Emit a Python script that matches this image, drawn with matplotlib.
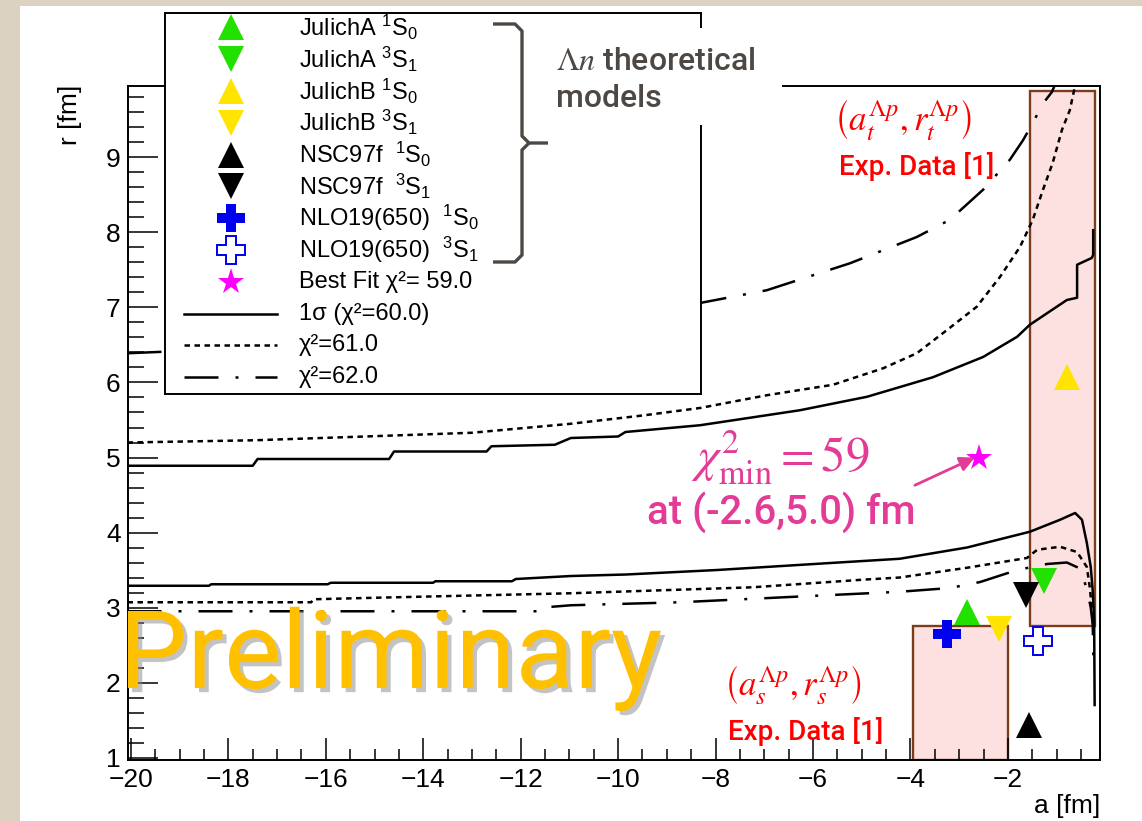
import matplotlib
matplotlib.use("Agg")
import matplotlib.pyplot as plt
import matplotlib.patheffects as pe
from matplotlib.patches import Rectangle
from matplotlib.ticker import MultipleLocator

plt.rcParams.update({
    "font.family": ["Liberation Sans", "DejaVu Sans"],
    "mathtext.fontset": "custom",
    "mathtext.rm": "Liberation Sans",
    "mathtext.it": "Liberation Sans:italic",
    "mathtext.bf": "Liberation Sans:bold",
    "axes.unicode_minus": True,
})

# ---- theory points (scattering length a, effective range r) in fm ----
MODEL_NAMES = ["JulichA", "JulichA", "JulichB", "JulichB",
               "NSC97f ", "NSC97f ", "NLO19(650) ", "NLO19(650) "]
MODEL_WAVES = ["1S0", "3S1", "1S0", "3S1", "1S0", "3S1", "1S0", "3S1"]
MODEL_A = [-2.84, -1.26, -0.79, -2.18, -1.57, -1.63, -3.25, -1.38]
MODEL_R = [2.94, 3.35, 6.07, 2.71, 1.43, 3.17, 2.65, 2.55]

BEST_A, BEST_R, BEST_CHI2 = -2.6, 5.0, 59.0

# ---- experimental Lambda-p boxes ----
EXP_S_A = [-3.95, -2.0]
EXP_S_R = [0.97, 2.75]
EXP_T_A = [-1.55, -0.21]
EXP_T_R = [2.75, 9.89]

# ---- chi2 contours, upper and lower branch for each level ----
SIG1_UP_A = [-20.07, -17.5, -17.4, -14.7, -14.6, -12.7, -12.6, -11.3, -10.97, -10.0, -9.85,
             -8.32, -6.27, -4.89, -3.54, -2.51, -1.81, -1.55, -0.79, -0.58, -0.58, -0.28,
             -0.25, -0.25]
SIG1_UP_R = [4.89, 4.89, 4.98, 4.98, 5.08, 5.08, 5.15, 5.17, 5.26, 5.28, 5.34,
             5.43, 5.63, 5.81, 6.07, 6.34, 6.61, 6.77, 7.10, 7.13, 7.57, 7.66,
             7.70, 8.03]
SIG1_LO_A = [-20.07, -18.4, -18.35, -15.96, -15.9, -13.8, -13.75, -12.18, -12.1, -10.97,
             -9.84, -7.97, -5.73, -4.22, -2.84, -1.55, -0.93, -0.62, -0.48, -0.38, -0.30,
             -0.26, -0.23, -0.22]
SIG1_LO_R = [3.29, 3.29, 3.31, 3.31, 3.33, 3.33, 3.35, 3.35, 3.38, 3.42,
             3.44, 3.50, 3.59, 3.65, 3.80, 4.01, 4.17, 4.26, 4.17, 3.86, 3.54,
             3.23, 2.83, 1.70]

CH61_UP_A = [-20.07, -17.45, -15.2, -13.0, -10.97, -9.5, -8.32, -6.95, -5.59, -4.56, -3.87,
             -3.19, -2.64, -2.16, -1.75, -1.49, -1.28, -1.08, -0.89, -0.73, -0.62]
CH61_UP_R = [5.20, 5.23, 5.28, 5.33, 5.45, 5.56, 5.66, 5.83, 5.97, 6.19, 6.39,
             6.73, 7.01, 7.41, 7.81, 8.17, 8.57, 8.93, 9.37, 9.63, 9.96]
CH61_LO_A = [-20.07, -16.3, -16.25, -15.0, -10.97, -7.23, -5.0, -4.22, -2.84, -1.61, -1.40,
             -0.93, -0.58, -0.38, -0.32, -0.28, -0.26]
CH61_LO_R = [3.07, 3.07, 3.11, 3.13, 3.19, 3.27, 3.37, 3.40, 3.53, 3.66, 3.77,
             3.81, 3.74, 3.54, 3.27, 3.01, 2.79]

CH62_UP_A = [-20.07, -16.0, -12.0, -8.32, -6.95, -5.24, -3.87, -3.19, -2.51, -1.96, -1.69,
             -1.49, -1.28, -1.10, -1.04]
CH62_UP_R = [6.39, 6.50, 6.70, 7.06, 7.23, 7.59, 7.94, 8.17, 8.57, 8.97, 9.23,
             9.46, 9.72, 9.87, 9.96]
CH62_LO_A = [-20.07, -11.6, -11.55, -10.97, -8.73, -6.49, -4.22, -3.19, -2.57, -1.81, -1.2,
             -0.79, -0.52, -0.38, -0.30, -0.26, -0.24]
CH62_LO_R = [2.95, 2.95, 3.00, 3.03, 3.07, 3.14, 3.21, 3.26, 3.34, 3.50, 3.58,
             3.60, 3.52, 3.25, 3.00, 2.78, 2.20]

LEVEL_LABELS = ["1σ (χ²=60.0)", "χ²=61.0", "χ²=62.0"]

# ---- styles ----
GREEN = "#22e000"
YELLOW = "#ffe400"
BLUE = "#0000ee"
MAGENTA = "#ff00ff"
PINK = "#e33b96"
RED = "#ff0000"
BOX_FILL = "#fde0e0"
BOX_EDGE = "#7b3d1c"
SLIDE_GREY = "#4d4843"
SLIDE_FONT = dict(family="Roboto", fontweight="medium")
MODEL_COLORS = [GREEN, GREEN, YELLOW, YELLOW, "black", "black", BLUE, BLUE]
MODEL_MARKERS = ["^", "v", "^", "v", "^", "v", "P", "P"]
MODEL_FACES = [GREEN, GREEN, YELLOW, YELLOW, "black", "black", BLUE, "white"]
LEVEL_STYLES = ["-", (0, (2.2, 1.8)), (0, (13.6, 6.8, 1.2, 6.8))]
LW = 1.8

W, H = 1142, 821


def fig_rect(x0, y0, x1, y1):
    """Pixel box (top-left origin) -> figure fraction rect."""
    return [x0 / W, 1 - y1 / H, (x1 - x0) / W, (y1 - y0) / H]


def wave_label(name, wave):
    return name + r" $^{%s}$S$_{%s}$" % (wave[0], wave[2])


fig = plt.figure(figsize=(W / 100, H / 100), dpi=100, facecolor="#dbd2c2")

# white slide panel
bg = fig.add_axes([0, 0, 1, 1], zorder=-5)
bg.set_xlim(0, W)
bg.set_ylim(H, 0)
bg.axis("off")
bg.add_patch(Rectangle((20, 6), W - 20, H - 6, facecolor="white", edgecolor="none"))

# ---- main frame ----
ax = fig.add_axes(fig_rect(127.5, 86, 1100, 760), zorder=0)
ax.set_xlim(-20.07, -0.11)
ax.set_ylim(0.967, 9.953)

for (ea, er) in [(EXP_S_A, EXP_S_R), (EXP_T_A, EXP_T_R)]:
    ax.add_patch(Rectangle((ea[0], er[0]), ea[1] - ea[0], er[1] - er[0],
                           facecolor=BOX_FILL, edgecolor=BOX_EDGE, lw=1.7, zorder=1.5))

branches = [
    (SIG1_UP_A, SIG1_UP_R, SIG1_LO_A, SIG1_LO_R),
    (CH61_UP_A, CH61_UP_R, CH61_LO_A, CH61_LO_R),
    (CH62_UP_A, CH62_UP_R, CH62_LO_A, CH62_LO_R),
]
for (ua, ur, la, lr), ls in zip(branches, LEVEL_STYLES):
    ax.plot(ua, ur, color="black", lw=LW, ls=ls, zorder=2)
    ax.plot(la, lr, color="black", lw=LW, ls=ls, zorder=2)

for a, r, c, m, f in zip(MODEL_A, MODEL_R, MODEL_COLORS, MODEL_MARKERS, MODEL_FACES):
    ms = 20 if m == "P" else 19
    ax.plot([a], [r], ls="none", marker=m, ms=ms, color=c, mfc=f, mec=c,
            mew=1.4 if f == "white" else 0, zorder=4)
ax.plot([BEST_A], [BEST_R], ls="none", marker="*", ms=20, color=MAGENTA, mew=0, zorder=4)

ax.annotate("", xy=(BEST_A - 0.08, BEST_R), xytext=(-3.91, 4.63),
            arrowprops=dict(arrowstyle="-|>", color=PINK, lw=2, mutation_scale=22,
                            shrinkA=0, shrinkB=0), zorder=5)

ax.xaxis.set_major_locator(MultipleLocator(2))
ax.xaxis.set_minor_locator(MultipleLocator(0.5))
ax.yaxis.set_major_locator(MultipleLocator(1))
ax.yaxis.set_minor_locator(MultipleLocator(0.2))
ax.tick_params(which="both", direction="in", top=False, right=False, width=1.1,
               labelsize=19, colors="black")
ax.xaxis.set_tick_params(which="major", length=15.8, pad=6)
ax.xaxis.set_tick_params(which="minor", length=8)
ax.yaxis.set_tick_params(which="major", length=21.6, pad=5)
ax.yaxis.set_tick_params(which="minor", length=11.5)
for sp in ax.spines.values():
    sp.set_linewidth(1.4)

fig.text(70 / W, 1 - 85 / H, "r [fm]", rotation=90, ha="center", va="top", fontsize=19)
fig.text(1100 / W, 1 - 806 / H, "a [fm]", ha="right", va="center", fontsize=19)

# ---- legend panel ----
lax = fig.add_axes(fig_rect(165, 13, 701, 394), zorder=2)
lax.set_xlim(165, 701)
lax.set_ylim(394, 13)
lax.set_xticks([])
lax.set_yticks([])
for sp in lax.spines.values():
    sp.set_linewidth(1.4)

row_y = [27.5 + 31.8 * i for i in range(12)]
for i, (n, wv, c, m, f) in enumerate(zip(MODEL_NAMES, MODEL_WAVES, MODEL_COLORS,
                                         MODEL_MARKERS, MODEL_FACES)):
    ms = 20 if m == "P" else 19
    lax.plot([231], [row_y[i]], ls="none", marker=m, ms=ms, color=c, mfc=f, mec=c,
             mew=1.4 if f == "white" else 0)
    lax.text(299, row_y[i], wave_label(n, wv), fontsize=17, va="center", ha="left")
lax.plot([231], [row_y[8]], ls="none", marker="*", ms=20, color=MAGENTA, mew=0)
lax.text(299, row_y[8], "Best Fit χ²= %.1f" % BEST_CHI2, fontsize=17, va="center", ha="left")
for k, (lab, ls) in enumerate(zip(LEVEL_LABELS, LEVEL_STYLES)):
    y = row_y[9 + k]
    lax.plot([184, 277], [y, y], color="black", lw=LW, ls=ls)
    lax.text(299, y, lab, fontsize=17, va="center", ha="left")

# ---- slide annotations ----
ov = fig.add_axes([0, 0, 1, 1], zorder=3)
ov.set_xlim(0, W)
ov.set_ylim(H, 0)
ov.axis("off")
ov.patch.set_alpha(0)

ov.add_patch(Rectangle((552, 28), 230, 97, facecolor="white", edgecolor="none"))
brace = dict(color=SLIDE_GREY, lw=2.4, solid_capstyle="butt", solid_joinstyle="round")
ov.plot([493, 515, 522, 522, 529, 548], [24, 24, 31, 136, 143, 143], **brace)
ov.plot([529, 522, 522, 515, 493], [143, 150, 255, 262, 262], **brace)

ov.text(556, 70, r"$\mathit{\Lambda n}$ theoretical", fontsize=23, color=SLIDE_GREY,
        math_fontfamily="stix", ha="left", va="baseline", **SLIDE_FONT)
ov.text(556, 107, "models", fontsize=23, color=SLIDE_GREY, ha="left", va="baseline",
        **SLIDE_FONT)

ov.text(903, 120, r"$\left(a_t^{\Lambda p},r_t^{\Lambda p}\right)$", fontsize=25, color=RED,
        math_fontfamily="stix", ha="center", va="center")
ov.text(839, 175, "Exp. Data [1]", fontsize=20, color=RED, ha="left", va="baseline",
        **SLIDE_FONT)
ov.text(793, 685, r"$\left(a_s^{\Lambda p},r_s^{\Lambda p}\right)$", fontsize=25, color=RED,
        math_fontfamily="stix", ha="center", va="center")
ov.text(728, 740, "Exp. Data [1]", fontsize=20, color=RED, ha="left", va="baseline",
        **SLIDE_FONT)

ov.text(780, 458, r"$\chi^2_{\rm min} = %d$" % BEST_CHI2, fontsize=35, color=PINK,
        math_fontfamily="stix", ha="center", va="center")
ov.text(781, 512, "at (%.1f,%.1f) fm" % (BEST_A, BEST_R), fontsize=29, color=PINK,
        ha="center", va="center", **SLIDE_FONT)

ov.text(119, 688, "Preliminary", fontsize=78, color="#ffc000", family="Roboto",
        ha="left", va="baseline",
        path_effects=[pe.SimplePatchShadow(offset=(3, -3), shadow_rgbFace="#888888", alpha=0.5),
                      pe.Normal()])

fig.savefig("out.png", dpi=100, facecolor=fig.get_facecolor())
